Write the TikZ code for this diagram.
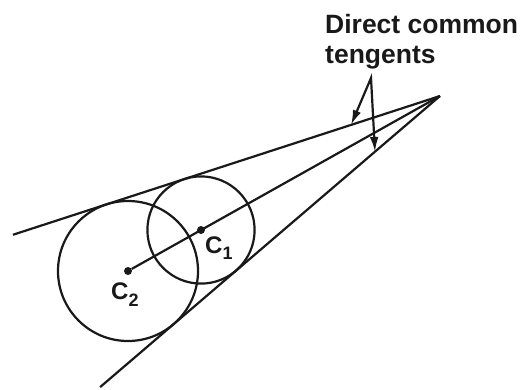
\documentclass[tikz,border=0pt]{standalone}
\usepackage{fontspec}
\setmainfont{Liberation Sans}
\usetikzlibrary{arrows.meta,calc}
\begin{document}
\begin{tikzpicture}[x=1pt,y=-1pt,
  geo/.style={line width=2.2pt, draw=black!90},
  ring/.style={geo, circle, inner sep=0pt},
  ctr/.style={circle, fill=black!90, inner sep=0pt, minimum size=8pt},
  lbl/.style={font=\fontsize{24}{26}\selectfont\bfseries, inner sep=0pt, anchor=base west, text=black!90},
  title/.style={font=\fontsize{26.5}{30}\selectfont\bfseries, align=left, inner sep=0pt, anchor=north west, text=black!90},
  pointer/.style={line width=2.2pt, draw=black!90, {Latex[length=15pt,width=8.5pt]}-{Latex[length=15pt,width=8.5pt]}}
]
\useasboundingbox (0,0) rectangle (525,389);
% apex (external centre of similitude)
\coordinate (P) at (440,96);
% centres
\node[ctr] (C2) at (128,271) {};
\node[ctr] (C1) at (201,230) {};
% circles
\node[ring, minimum size=140pt] (K2) at (C2) {};
\node[ring, minimum size=107.2pt] (K1) at (C1) {};
% direct common tangents
\coordinate (U) at ($(P)+(162.0:449)$);
\coordinate (L) at ($(P)+(139.42:447.5)$);
\draw[geo] (U) -- (P);
\draw[geo] (L) -- (P);
% line of centres
\draw[geo] (C2) -- (P);
% labels
\node[lbl] (l2) at (111,299) {C\raisebox{-7pt}{\fontsize{18}{18}\selectfont 2}};
\node[lbl] (l1) at (205,253) {C\raisebox{-6pt}{\fontsize{18}{18}\selectfont 1}};
% title and pointers
\node[title] (T) at (325,14) {Direct common\\tengents};
\coordinate (A) at (371,78);
\coordinate (T1) at (351,125);
\coordinate (T2) at (375,152);
\draw[pointer] (T1) -- (A) -- (T2);
\end{tikzpicture}
\end{document}
